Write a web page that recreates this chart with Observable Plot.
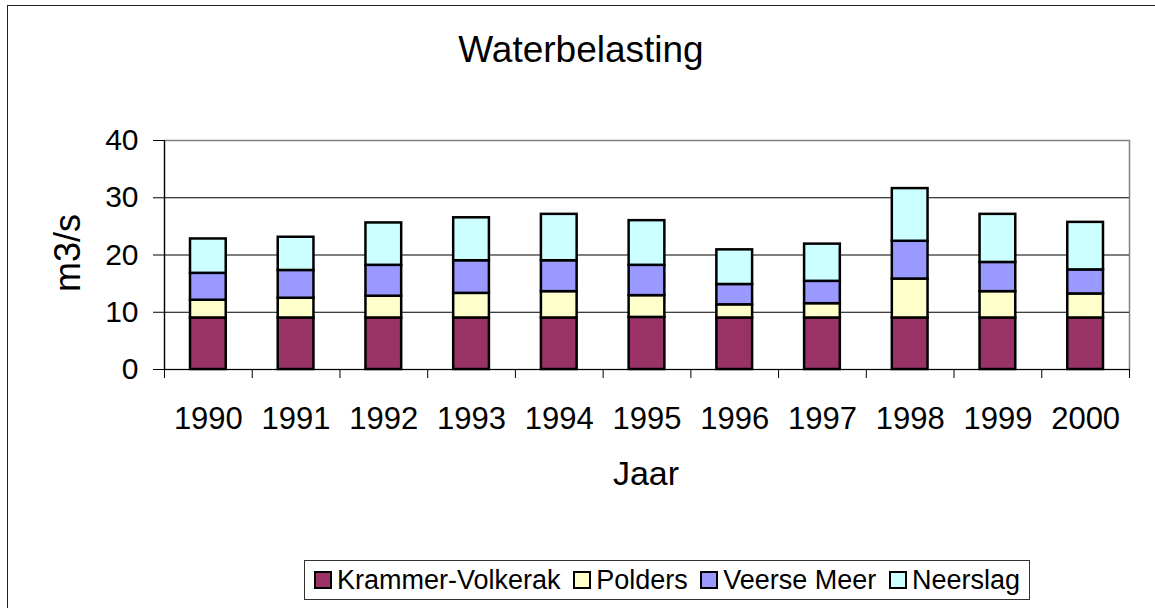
<!DOCTYPE html>
<html>
<head>
<meta charset="utf-8">
<script src="https://cdn.jsdelivr.net/npm/d3@7"></script>
<script src="https://cdn.jsdelivr.net/npm/@observablehq/plot@0.6"></script>
<style>
  html, body { margin: 0; padding: 0; background: #fff; overflow: hidden; }
  #wrap { position: relative; width: 1155px; height: 608px; font-family: "Liberation Sans", Arial, sans-serif; overflow: hidden; }
  #outer { position: absolute; left: 7px; top: 5px; width: 1200px; height: 700px; border: 1.5px solid #222; box-sizing: border-box; }
  #chart { position: absolute; left: 0; top: 0; }
  #legend { position: absolute; left: 304px; top: 560px; width: 726px; height: 40px; box-sizing: border-box;
            border: 1.5px solid #333; display: flex; align-items: center; justify-content: space-between;
            padding: 0 9px 0 9px; font-size: 27px; color: #000; background: #fff; }
  .item { display: flex; align-items: center; white-space: nowrap; }
  .sw { width: 18px; height: 18px; box-sizing: border-box; border: 2.5px solid #000; margin-right: 5px; }
</style>
</head>
<body>
<div id="wrap">
  <div id="outer"></div>
  <div id="chart"></div>
  <div id="legend"></div>
</div>
<script>
const years = [1990, 1991, 1992, 1993, 1994, 1995, 1996, 1997, 1998, 1999, 2000];
const seriesNames = ["Krammer-Volkerak", "Polders", "Veerse Meer", "Neerslag"];
const seriesColors = ["#993366", "#FFFFCC", "#9999FF", "#CCFFFF"];
const krammer  = [9.0, 9.0, 9.0, 9.0, 9.0, 9.1, 9.0, 9.0, 9.0, 9.0, 9.0];
const polders  = [3.1, 3.45, 3.8, 4.3, 4.6, 3.8, 2.3, 2.5, 6.8, 4.6, 4.2];
const veerse   = [4.7, 4.85, 5.4, 5.7, 5.4, 5.3, 3.55, 3.9, 6.6, 5.1, 4.2];
const neerslag = [6.0, 5.8, 7.4, 7.5, 8.1, 7.8, 6.05, 6.5, 9.2, 8.4, 8.3];
const yTicks = [0, 10, 20, 30, 40];
const gridValues = [10, 20, 30];
const titleText = "Waterbelasting";
const xLabel = "Jaar";
const yLabel = "m3/s";

const seriesValues = [krammer, polders, veerse, neerslag];
const rows = [];
years.forEach((yr, i) => {
  let base = 0;
  seriesValues.forEach((vals, s) => {
    rows.push({year: yr, series: seriesNames[s], y1: base, y2: base + vals[i]});
    base += vals[i];
  });
});
const boundaries = [years[0] - 0.5, ...years.map(y => y + 0.5)];

const W = 1155, H = 608;
const chart = Plot.plot({
  width: W,
  height: H,
  marginLeft: 164,
  marginRight: 26,
  marginTop: 140,
  marginBottom: 239,
  style: {fontFamily: "'Liberation Sans', Arial, sans-serif", color: "#000", background: "transparent", overflow: "visible"},
  x: {type: "linear", domain: [years[0] - 0.5, years[years.length - 1] + 0.5]},
  y: {domain: [0, 40]},
  color: {domain: seriesNames, range: seriesColors},
  marks: [
    Plot.frame({stroke: "#808080", strokeWidth: 1.5}),
    Plot.ruleY(gridValues, {stroke: "#000", strokeWidth: 1}),
    Plot.rect(rows, {x1: d => d.year - 0.5, x2: d => d.year + 0.5, y1: "y1", y2: "y2",
      fill: "series", stroke: "#000", strokeWidth: 2.5, insetLeft: 26, insetRight: 26}),
    Plot.ruleY([0], {stroke: "#000", strokeWidth: 1.2}),
    Plot.frame({anchor: "left", stroke: "#000", strokeWidth: 1.2}),
    Plot.axisY({ticks: yTicks, tickSize: 11, tickPadding: 15, fontSize: 30, label: null, stroke: "#000"}),
    Plot.axisX({ticks: boundaries, tickSize: 9, tickFormat: () => "", label: null, stroke: "#000"}),
    Plot.axisX({ticks: years, tickSize: 0, tickPadding: 37, fontSize: 31, tickFormat: d => String(d), label: null})
  ]
});
document.getElementById("chart").appendChild(chart);

const svg = d3.select(chart.tagName.toLowerCase() === "svg" ? chart : chart.querySelector("svg"));
svg.append("text").attr("x", 581).attr("y", 62).attr("text-anchor", "middle")
  .attr("font-size", 37).attr("fill", "#000").text(titleText);
svg.append("text").attr("x", 646).attr("y", 485).attr("text-anchor", "middle")
  .attr("font-size", 34).attr("fill", "#000").text(xLabel);
svg.append("text").attr("transform", "translate(80,253) rotate(-90)").attr("text-anchor", "middle")
  .attr("font-size", 36).attr("fill", "#000").text(yLabel);

const legend = document.getElementById("legend");
seriesNames.forEach((name, i) => {
  const item = document.createElement("div");
  item.className = "item";
  const sw = document.createElement("span");
  sw.className = "sw";
  sw.style.background = seriesColors[i];
  const t = document.createElement("span");
  t.textContent = name;
  item.appendChild(sw);
  item.appendChild(t);
  legend.appendChild(item);
});
</script>
</body>
</html>
